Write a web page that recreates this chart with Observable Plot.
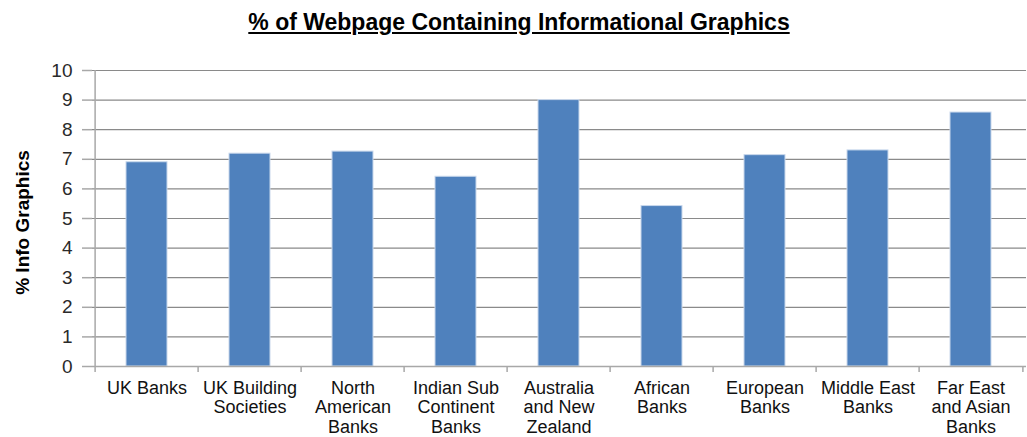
<!DOCTYPE html>
<html>
<head>
<meta charset="utf-8">
<script src="https://cdn.jsdelivr.net/npm/d3@7"></script>
<script src="https://cdn.jsdelivr.net/npm/@observablehq/plot@0.6"></script>
<style>
  html, body { margin: 0; padding: 0; background: #fff; }
  #title {
    width: 1027px; height: 44px; line-height: 44px;
    font-family: "Liberation Sans", Arial, sans-serif; font-weight: bold; font-size: 23px;
    text-decoration: underline; text-align: center; color: #000;
    box-sizing: border-box; padding-left: 11px;
  }
</style>
</head>
<body>
<div id="title">% of Webpage Containing Informational Graphics</div>
<div id="chart"></div>
<script>
const categories = ["UK Banks", "UK Building Societies", "North American Banks", "Indian Sub Continent Banks", "Australia and New Zealand", "African Banks", "European Banks", "Middle East Banks", "Far East and Asian Banks"];
const tickLabels = ["UK Banks", "UK Building\nSocieties", "North\nAmerican\nBanks", "Indian Sub\nContinent\nBanks", "Australia\nand New\nZealand", "African\nBanks", "European\nBanks", "Middle East\nBanks", "Far East\nand Asian\nBanks"];
const values = [6.9, 7.19, 7.26, 6.41, 9.0, 5.42, 7.14, 7.3, 8.58];
const yTicks = [0, 1, 2, 3, 4, 5, 6, 7, 8, 9, 10];
const yLabel = "% Info Graphics";

const data = categories.map((c, i) => ({cat: c, value: values[i]}));
const labelOf = new Map(categories.map((c, i) => [c, tickLabels[i]]));

const W = 1027, H = 393, ML = 92, MR = 1, MT = 26, MB = 71;
const half = (W - ML - MR) / categories.length / 2;
const axisColor = "#a8a8a8";
const gridColor = "#8a8a8a";

const chart = Plot.plot({
  width: W, height: H,
  marginLeft: ML, marginRight: MR, marginTop: MT, marginBottom: MB,
  style: {fontFamily: "'Liberation Sans', Arial, sans-serif", color: "#222", background: "#fff"},
  x: {domain: categories, paddingInner: 0.6, paddingOuter: 0.3, axis: null},
  y: {domain: [0, 10], axis: null},
  marks: [
    Plot.gridY(yTicks, {stroke: gridColor, strokeOpacity: 1, strokeWidth: 1.2}),
    Plot.barY(data, {x: "cat", y: "value", fill: "#4F81BD", stroke: "#c9d8ec", strokeWidth: 1}),
    Plot.ruleY([0], {stroke: axisColor, strokeWidth: 1.5}),
    // left axis line
    Plot.ruleX([categories[0]], {x: d => d, y1: 0, y2: 10, dx: -half, stroke: axisColor, strokeWidth: 1.5}),
    // category boundary ticks (left edge of each category, plus the right end)
    Plot.ruleX(categories, {x: d => d, y1: 0, y2: 0, insetBottom: -6, dx: -half, stroke: axisColor, strokeWidth: 1.5}),
    Plot.ruleX([categories[categories.length - 1]], {x: d => d, y1: 0, y2: 0, insetBottom: -6, dx: half, stroke: axisColor, strokeWidth: 1.5}),
    // category labels
    Plot.axisX({tickSize: 0, tickPadding: 13, tickFormat: d => labelOf.get(d), fontSize: 18, lineHeight: 1.1, fill: "#111", label: null}),
    // y axis
    Plot.axisY({ticks: yTicks, tickSize: 10, tickPadding: 10, fontSize: 19, stroke: axisColor, strokeWidth: 1.5, fill: "#2a2a2a", label: null}),
    Plot.text([yLabel], {text: d => d, frameAnchor: "left", textAnchor: "middle", rotate: -90, dx: -70, dy: 4, fontSize: 19, fontWeight: "bold", fill: "#000"})
  ]
});
document.getElementById("chart").appendChild(chart);
</script>
</body>
</html>
